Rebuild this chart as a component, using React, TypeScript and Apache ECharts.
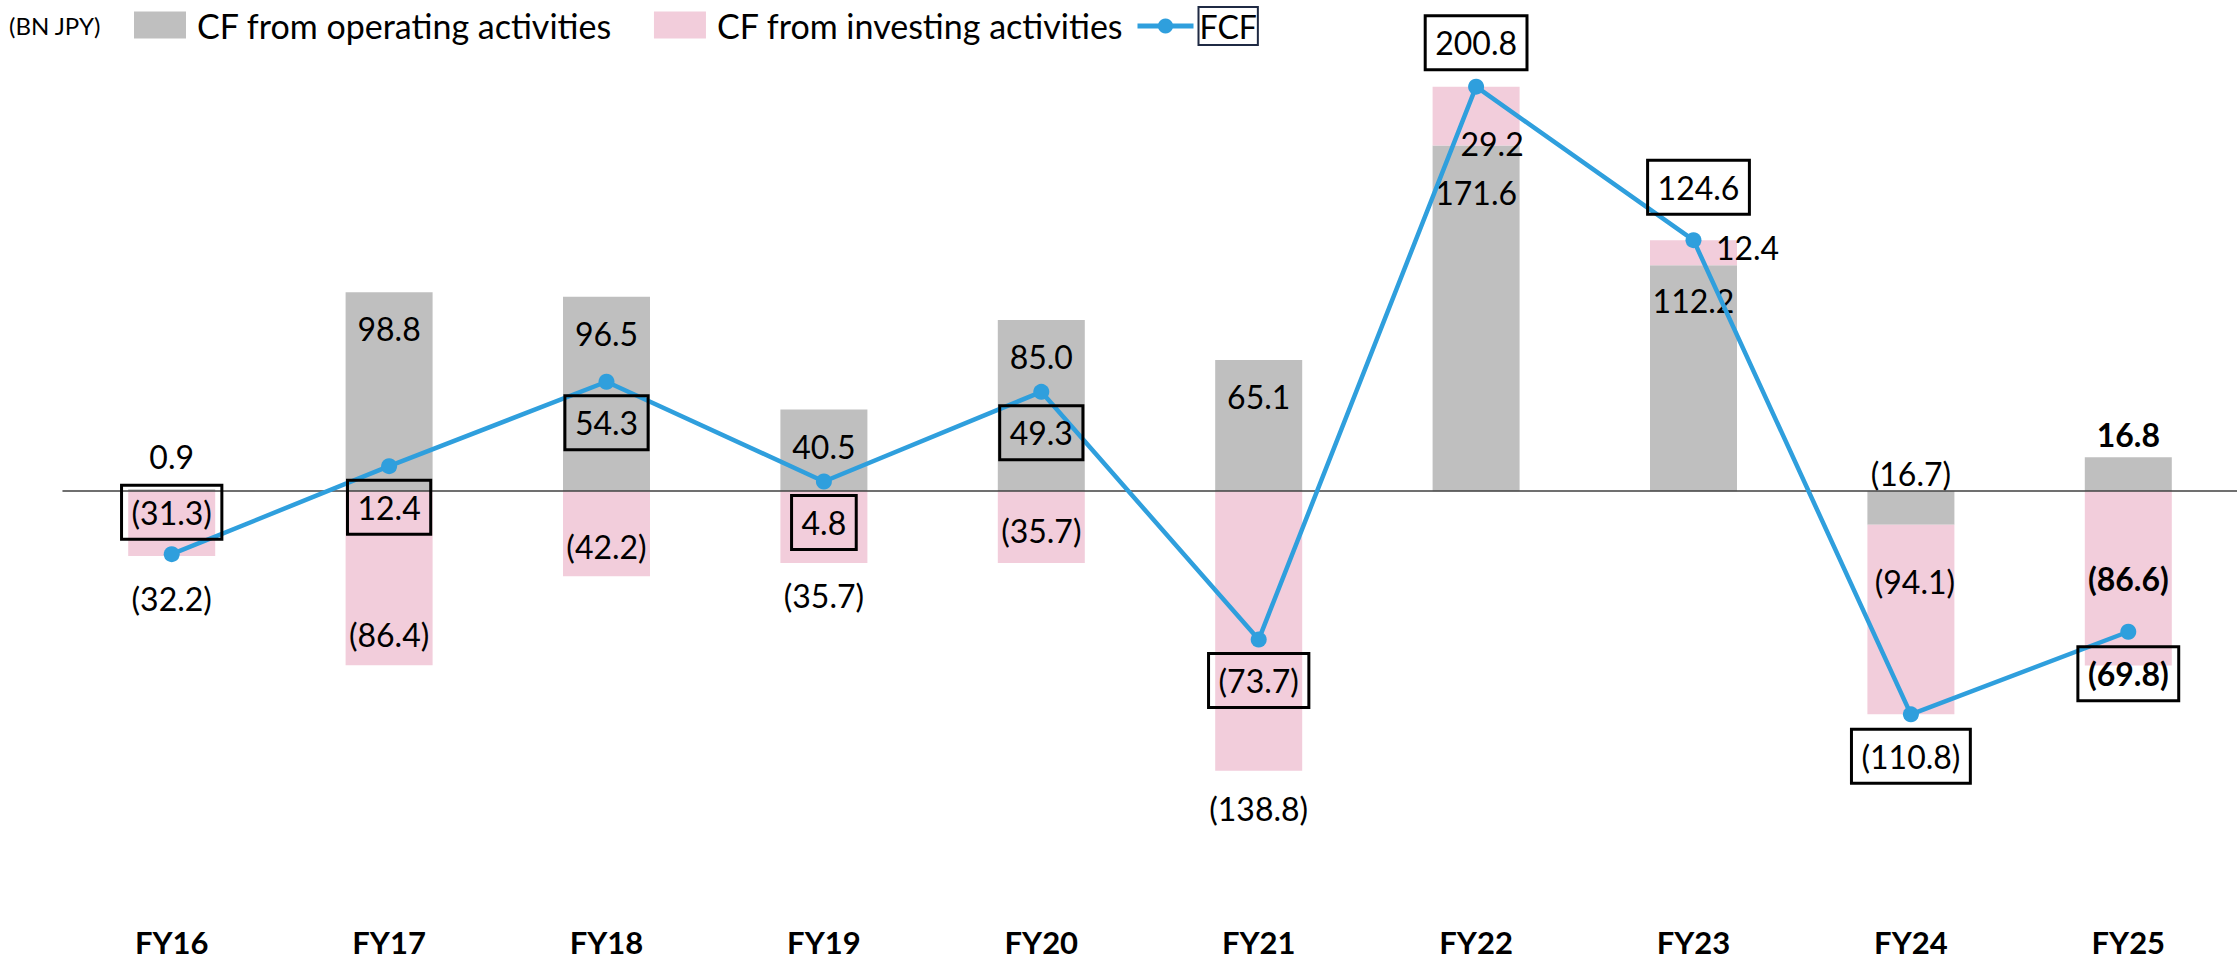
import React, { useEffect, useRef } from 'react';
import * as echarts from 'echarts';

// ---- data ----
const categories = ['FY16', 'FY17', 'FY18', 'FY19', 'FY20', 'FY21', 'FY22', 'FY23', 'FY24', 'FY25'];
const operatingCF = [0.9, 98.8, 96.5, 40.5, 85.0, 65.1, 171.6, 112.2, -16.7, 16.8];
const investingCF = [-32.2, -86.4, -42.2, -35.7, -35.7, -138.8, 29.2, 12.4, -94.1, -86.6];
const freeCF = [-31.3, 12.4, 54.3, 4.8, 49.3, -73.7, 200.8, 124.6, -110.8, -69.8];
const boldCategory = 'FY25';
const unitText = '(BN JPY)';
const seriesNames = ['CF from operating activities', 'CF from investing activities', 'FCF'];

// ---- styles ----
const FONT = 'Lato';
const GRAY = '#BFBFBF';
const PINK = '#F2CDDB';
const BLUE = '#2F9FDD';

const fmt = (v: number) => (v < 0 ? `(${Math.abs(v).toFixed(1)})` : v.toFixed(1));

const opLabelPos: any[] = [
  { position: 'top', distance: 17 },
  { position: 'insideTop', distance: 20 },
  { position: 'insideTop', distance: 21 },
  { position: 'insideTop', distance: 21 },
  { position: 'insideTop', distance: 21 },
  { position: 'insideTop', distance: 20 },
  { position: 'insideTop', distance: 31 },
  { position: 'insideTop', distance: 19 },
  { position: 'top', distance: 2 },
  { position: 'top', distance: 7 },
];
const invLabelPos: any[] = [
  { position: 'bottom', distance: 26 },
  { position: 'insideBottom', distance: 15 },
  { position: 'insideBottom', distance: 14 },
  { position: 'bottom', distance: 16 },
  { position: 'insideBottom', distance: 17 },
  { position: 'bottom', distance: 22 },
  { position: 'inside', offset: [16, 27] },
  { position: 'inside', offset: [54, -5] },
  { position: 'insideTop', distance: 41, offset: [4, 0] },
  { position: 'inside' },
];
const fcfLabelPos: any[] = [
  { position: 'top', distance: 7 },
  { position: 'bottom', distance: 6 },
  { position: 'bottom', distance: 6 },
  { position: 'bottom', distance: 6 },
  { position: 'bottom', distance: 6 },
  { position: 'bottom', distance: 6 },
  { position: 'top', distance: 9 },
  { position: 'top', distance: 18, offset: [5, 0] },
  { position: 'bottom', distance: 7 },
  { position: 'bottom', distance: 7 },
];

export default function App() {
  const ref = useRef<HTMLDivElement>(null);

  useEffect(() => {
    document.body.style.margin = '0';
    if (!ref.current) return;
    const chart = echarts.init(ref.current, undefined, { renderer: 'svg' });

    const weight = (i: number) => (categories[i] === boldCategory ? 'bold' : 'normal');
    const baseLabel = {
      show: true,
      fontFamily: FONT,
      fontSize: 32,
      color: '#000',
      formatter: (p: any) => fmt(p.value),
    };

    const opData = operatingCF.map((v, i) => ({
      value: v,
      label: { ...opLabelPos[i], fontWeight: weight(i) },
    }));
    const invData = investingCF.map((v, i) => ({
      value: v,
      label: { ...invLabelPos[i], fontWeight: weight(i) },
    }));
    const fcfData = freeCF.map((v, i) => ({
      value: v,
      label: { ...fcfLabelPos[i], fontWeight: weight(i) },
    }));

    const option: any = {
      animation: false,
      backgroundColor: '#fff',
      graphic: [
        {
          type: 'text',
          left: 9,
          top: 13,
          style: { text: unitText, font: `24px ${FONT}`, fill: '#000' },
        },
      ],
      legend: [
        {
          data: [seriesNames[0], seriesNames[1]],
          left: 129,
          top: 3,
          icon: 'rect',
          itemWidth: 52,
          itemHeight: 27,
          itemGap: 42,
          selectedMode: false,
          textStyle: { fontFamily: FONT, fontSize: 34, color: '#000', padding: [0, 0, 0, 6] },
        },
        {
          data: [
            {
              name: seriesNames[2],
              lineStyle: { width: 5 },
              textStyle: {
                borderColor: '#1F2A44',
                borderWidth: 2,
                padding: [4, 1, 2, 1],
              },
            },
          ],
          left: 1130,
          top: 1,
          itemWidth: 56,
          itemHeight: 19,
          selectedMode: false,
          textStyle: { fontFamily: FONT, fontSize: 32, color: '#000' },
        },
      ],
      grid: { left: 63, right: 0, top: 48, bottom: 66, containLabel: false },
      xAxis: [
        {
          type: 'category',
          data: categories,
          position: 'bottom',
          axisLine: { show: false, onZero: false },
          axisTick: { show: false },
          axisLabel: {
            fontFamily: FONT,
            fontSize: 31,
            fontWeight: 'bold',
            color: '#000',
            margin: 32,
          },
        },
        {
          type: 'category',
          data: categories,
          position: 'bottom',
          z: 3,
          axisLine: { show: true, onZero: true, lineStyle: { color: '#404040', width: 1.5 } },
          axisTick: { show: false },
          axisLabel: { show: false },
        },
      ],
      yAxis: {
        type: 'value',
        min: -200,
        max: 220,
        show: false,
        splitLine: { show: false },
      },
      series: [
        {
          name: seriesNames[0],
          type: 'bar',
          stack: 'cf',
          barWidth: 87,
          xAxisIndex: 0,
          itemStyle: { color: GRAY },
          label: baseLabel,
          data: opData,
        },
        {
          name: seriesNames[1],
          type: 'bar',
          stack: 'cf',
          barWidth: 87,
          xAxisIndex: 0,
          itemStyle: { color: PINK },
          label: baseLabel,
          data: invData,
        },
        {
          name: seriesNames[2],
          type: 'line',
          xAxisIndex: 0,
          z: 5,
          symbol: 'circle',
          symbolSize: 16,
          itemStyle: { color: BLUE },
          lineStyle: { color: BLUE, width: 4.5 },
          label: {
            ...baseLabel,
            lineHeight: 34,
            padding: [10, 10],
            borderColor: '#000',
            borderWidth: 1.5,
            backgroundColor: 'transparent',
          },
          data: fcfData,
        },
      ],
    };

    chart.setOption(option);
    return () => chart.dispose();
  }, []);

  return (
    <div
      ref={ref}
      style={{ position: 'absolute', left: 0, top: 0, width: 2237, height: 960 }}
    />
  );
}
